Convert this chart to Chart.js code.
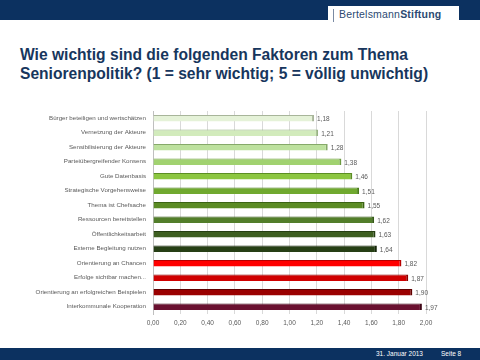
<!DOCTYPE html>
<html>
<head>
<meta charset="utf-8">
<script src="https://cdn.jsdelivr.net/npm/chart.js@4.4.1/dist/chart.umd.min.js"></script>
<style>
  body { margin:0; width:480px; height:360px; position:relative; background:#fff; overflow:hidden; font-family:"Liberation Sans", Arial, sans-serif; }
  .top { position:absolute; left:0; top:0; width:480px; height:20px; background:#0c3160; }
  .logo { position:absolute; left:328px; top:6px; width:131px; height:17px; background:#fff; }
  .logo .bar { position:absolute; left:5px; top:3px; width:1px; height:13px; background:#7a8aa3; }
  .logo .txt { position:absolute; left:11px; top:2px; font-size:10.5px; color:#2c4a72; letter-spacing:0.2px; white-space:nowrap; }
  .title { position:absolute; left:20px; top:45px; font-size:15.6px; font-weight:bold; color:#17365d; line-height:19px; white-space:nowrap; }
  .foot { position:absolute; left:0; top:348px; width:480px; height:12px; background:#0c3160; color:#fff; font-size:6.5px; }
  .foot span { position:absolute; top:2px; }
  #wrap { position:absolute; left:0; top:100px; width:480px; height:240px; }
</style>
</head>
<body>
<div class="top"></div>
<div class="logo"><div class="bar"></div><div class="txt">Bertelsmann<b>Stiftung</b></div></div>
<div class="title">Wie wichtig sind die folgenden Faktoren zum Thema<br>Seniorenpolitik? (1 = sehr wichtig; 5 = völlig unwichtig)</div>
<div id="wrap"><canvas id="barChart"></canvas></div>
<div class="foot"><span style="left:376px">31. Januar 2013</span><span style="left:441px">Seite 8</span></div>
<script>
var categories = [
    'Bürger beteiligen und wertschätzen',
    'Vernetzung der Akteure',
    'Sensibilisierung der Akteure',
    'Parteiübergreifender Konsens',
    'Gute Datenbasis',
    'Strategische Vorgehensweise',
    'Thema ist Chefsache',
    'Ressourcen bereitstellen',
    'Öffentlichkeitsarbeit',
    'Externe Begleitung nutzen',
    'Orientierung an Chancen',
    'Erfolge sichtbar machen...',
    'Orientierung an erfolgreichen Beispielen',
    'Interkommunale Kooperation'
];
var values = [1.18, 1.21, 1.28, 1.38, 1.46, 1.51, 1.55, 1.62, 1.63, 1.64, 1.82, 1.87, 1.90, 1.97];
var xTicks = [0, 0.2, 0.4, 0.6, 0.8, 1.0, 1.2, 1.4, 1.6, 1.8, 2.0];

var barColors = ['#e5f2d8', '#d2ebbc', '#bde19e', '#a1d270', '#8cc640', '#70a92f', '#5b8b24',
    '#527e2a', '#3e5f21', '#263f15', '#ff0000', '#d00000', '#9a0000', '#6a1030'];
var edgeColors = ['#a8b59a', '#98b383', '#86a96a', '#6c9a40', '#5c8e23', '#4a7c1a', '#3c6414',
    '#355a17', '#263f12', '#15260a', '#b80000', '#8c0000', '#600000', '#400818'];

function fmt(v) { return Number(v).toFixed(2).replace('.', ','); }

var valueLabels = {
    id: 'valueLabels',
    afterDatasetsDraw: function(chart) {
        var ctx = chart.ctx;
        var meta = chart.getDatasetMeta(0);
        ctx.save();
        ctx.font = '6.5px "Liberation Sans", Arial, sans-serif';
        ctx.fillStyle = '#595959';
        ctx.textBaseline = 'middle';
        ctx.textAlign = 'left';
        meta.data.forEach(function(bar, i) {
            ctx.fillText(fmt(values[i]), bar.x + 3, bar.y + 1);
        });
        ctx.restore();
    }
};

var ctx = document.getElementById('barChart');
new Chart(ctx, {
    type: 'bar',
    data: {
        labels: categories,
        datasets: [{
            data: values,
            backgroundColor: barColors,
            borderColor: edgeColors,
            borderWidth: { top: 1, right: 2, bottom: 0, left: 0 },
            borderSkipped: false,
            barPercentage: 0.5,
            categoryPercentage: 0.92
        }]
    },
    options: {
        indexAxis: 'y',
        responsive: true,
        maintainAspectRatio: false,
        animation: false,
        devicePixelRatio: 1,
        layout: { padding: { top: 11, right: 54, left: 0, bottom: 0 } },
        plugins: { legend: { display: false }, tooltip: { enabled: false } },
        scales: {
            x: {
                min: 0,
                max: 2,
                afterBuildTicks: function(scale) { scale.ticks = xTicks.map(function(v) { return { value: v }; }); },
                afterFit: function(scale) { scale.height = 26; },
                grid: { color: '#d9d9d9', drawTicks: false, lineWidth: 1 },
                border: { display: false },
                ticks: {
                    padding: 5,
                    color: '#595959',
                    font: { size: 6.5, family: '"Liberation Sans", Arial, sans-serif' },
                    callback: function(v) { return fmt(v); }
                }
            },
            y: {
                afterFit: function(scale) { scale.width = 153; },
                grid: { display: false, drawTicks: false },
                border: { display: true, color: '#bfbfbf' },
                ticks: {
                    padding: 7,
                    color: '#595959',
                    font: { size: 6.2, family: '"Liberation Sans", Arial, sans-serif' }
                }
            }
        }
    },
    plugins: [valueLabels]
});
</script>
</body>
</html>
